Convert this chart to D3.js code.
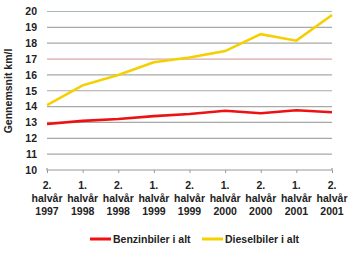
<!DOCTYPE html>
<html>
<head>
<meta charset="utf-8">
<script src="https://cdn.jsdelivr.net/npm/d3@7"></script>
<style>
  body { margin: 0; background: #fff; }
  text { font-family: "Liberation Sans", Arial, sans-serif; font-weight: bold; fill: #222; }
</style>
</head>
<body>
<div id="chart"></div>
<script>
var periods = ["2.|halvår|1997", "1.|halvår|1998", "2.|halvår|1998", "1.|halvår|1999", "2.|halvår|1999",
               "1.|halvår|2000", "2.|halvår|2000", "1.|halvår|2001", "2.|halvår|2001"];
var benzin = [12.9, 13.1, 13.22, 13.4, 13.53, 13.74, 13.58, 13.77, 13.64];
var diesel = [14.1, 15.34, 16.0, 16.8, 17.1, 17.5, 18.57, 18.16, 19.78];
var yTicks = [10, 11, 12, 13, 14, 15, 16, 17, 18, 19, 20];
var seriesNames = ["Benzinbiler i alt", "Dieselbiler i alt"];
var seriesColors = ["#ee1111", "#f5d000"];

var margin = { top: 11.5, left: 47, right: 18, bottom: 83 },
    width = 350 - margin.left - margin.right,
    height = 253 - margin.top - margin.bottom;

var svg = d3.select("#chart").append("svg")
    .attr("width", 350)
    .attr("height", 253);
var g = svg.append("g")
    .attr("transform", "translate(" + margin.left + "," + margin.top + ")");

var x = d3.scalePoint()
    .domain(d3.range(periods.length))
    .range([0, width]);

var y = d3.scaleLinear()
    .domain([10, 20])
    .range([height, 0]);

// gridlines
g.selectAll(".grid")
    .data(yTicks.filter(function(d) { return d > 10; }))
    .enter().append("line")
    .attr("x1", 0).attr("x2", width)
    .attr("y1", function(d) { return y(d); })
    .attr("y2", function(d) { return y(d); })
    .attr("stroke", function(d) { return d == 17 ? "#d9a8a8" : (d == 20 ? "#a8b8b0" : "#a8a8a8"); })
    .attr("stroke-width", 1.2);

// y axis labels
var yAxis = d3.axisLeft(y).tickValues(yTicks).tickSize(0).tickPadding(10);
var yg = g.append("g").call(yAxis);
yg.select(".domain").remove();
yg.selectAll("text").style("font-size", "10.5px").attr("fill", "#222");

// x axis
var xAxis = d3.axisBottom(x).tickSize(3).tickFormat("");
var xg = g.append("g")
    .attr("transform", "translate(0," + height + ")")
    .call(xAxis);
xg.select(".domain").attr("stroke", "#999").attr("stroke-width", 1.2).attr("d", "M0,-2V0H" + width + "V-2");
xg.selectAll(".tick line").attr("stroke", "#999");

var lbl = g.selectAll(".xl")
    .data(periods)
    .enter().append("text")
    .attr("text-anchor", "middle")
    .attr("transform", function(d, i) { return "translate(" + x(i) + "," + (height + 19) + ")"; })
    .style("font-size", "10.5px");
lbl.selectAll("tspan")
    .data(function(d) { return d.split("|"); })
    .enter().append("tspan")
    .attr("x", 0)
    .attr("dy", function(d, i) { return i == 0 ? 0 : 13; })
    .text(function(d) { return d; });

// y title
svg.append("text")
    .attr("transform", "translate(11.5,91) rotate(-90)")
    .attr("text-anchor", "middle")
    .style("font-size", "10.5px")
    .text("Gennemsnit km/l");

// lines
var line = d3.line()
    .x(function(d, i) { return x(i); })
    .y(function(d) { return y(d); });

[benzin, diesel].forEach(function(s, k) {
    g.append("path")
        .datum(s)
        .attr("fill", "none")
        .attr("stroke", seriesColors[k])
        .attr("stroke-width", 2.6)
        .attr("d", line);
});

// legend
var legX = [90, 202];
seriesNames.forEach(function(n, k) {
    var lg = svg.append("g").attr("transform", "translate(" + legX[k] + ",239)");
    lg.append("line")
        .attr("x1", 0).attr("x2", 21)
        .attr("stroke", seriesColors[k])
        .attr("stroke-width", 3);
    lg.append("text")
        .attr("x", 23)
        .attr("y", 4)
        .style("font-size", "10.5px")
        .text(n);
});
</script>
</body>
</html>
